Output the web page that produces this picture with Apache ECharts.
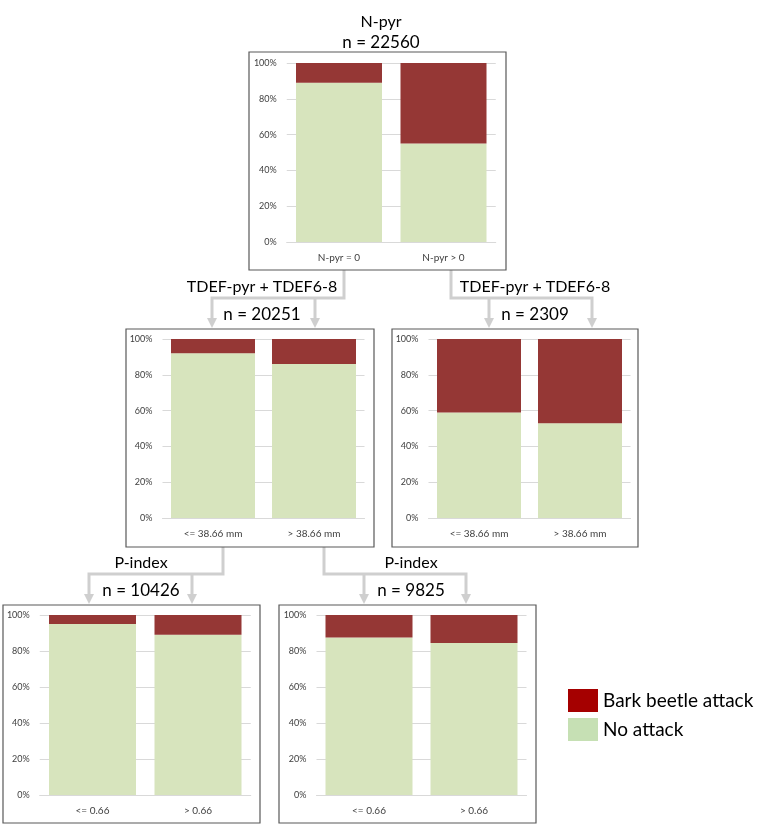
<!DOCTYPE html>
<html>
<head>
<meta charset="utf-8">
<script src="https://cdn.jsdelivr.net/npm/echarts@6/dist/echarts.min.js"></script>
<style>
html, body { margin: 0; padding: 0; background: #fff; }
#main { width: 765px; height: 826px; }
</style>
</head>
<body>
<div id="main"></div>
<script>
// data (percent of trees)
var catsNpyr = ['N-pyr = 0', 'N-pyr > 0'];
var catsTdef = ['<= 38.66 mm', '> 38.66 mm'];
var catsPidx = ['<= 0.66', '> 0.66'];

var noAttackNpyr  = [89, 55];
var attackNpyr    = [11, 45];
var noAttackTdefA = [92, 86];
var attackTdefA   = [8, 14];
var noAttackTdefB = [59, 53];
var attackTdefB   = [41, 47];
var noAttackPidxA = [95, 89];
var attackPidxA   = [5, 11];
var noAttackPidxB = [87.5, 84.5];
var attackPidxB   = [12.5, 15.5];

var nodeTitles = ['N-pyr', 'TDEF-pyr + TDEF6-8', 'TDEF-pyr + TDEF6-8', 'P-index', 'P-index'];
var nodeCounts = [22560, 20251, 2309, 10426, 9825];

var FONT = 'Lato';
var RED = '#953735', GREEN = '#D7E4BD';
var LINE = '#CFCFCF';

// layout of the five small charts
var panels = [
    {cats: catsNpyr, no: noAttackNpyr,  yes: attackNpyr,  box: [249, 52, 257, 218],  grid: {left: 286.75, top: 63,  width: 209, height: 179}, barW: 86},
    {cats: catsTdef, no: noAttackTdefA, yes: attackTdefA, box: [126, 329, 248, 218], grid: {left: 162.5,  top: 339, width: 202, height: 179}, barW: 84},
    {cats: catsTdef, no: noAttackTdefB, yes: attackTdefB, box: [392, 329, 246, 218], grid: {left: 428.5,  top: 339, width: 202, height: 179}, barW: 84},
    {cats: catsPidx, no: noAttackPidxA, yes: attackPidxA, box: [3, 605, 257, 218],   grid: {left: 39.75,  top: 615, width: 211, height: 180}, barW: 87},
    {cats: catsPidx, no: noAttackPidxB, yes: attackPidxB, box: [279, 605, 257, 218], grid: {left: 316.5,  top: 615, width: 210, height: 180}, barW: 87}
];

// where the node headings go
var headPos = [
    {x: 381, y1: 22,  y2: 43},
    {x: 262, y1: 287, y2: 315},
    {x: 535, y1: 287, y2: 315},
    {x: 141, y1: 563, y2: 591},
    {x: 411, y1: 563, y2: 591}
];

// connectors: trunk polyline + extra branch x, arrow tip y
var links = [
    {trunk: [[344, 270], [344, 298], [212, 298], [212, 320]], branch: 315, y0: 298, tip: 328},
    {trunk: [[451, 270], [451, 298], [592, 298], [592, 320]], branch: 489, y0: 298, tip: 328},
    {trunk: [[223, 547], [223, 574], [89, 574], [89, 596]],   branch: 192, y0: 574, tip: 604},
    {trunk: [[324, 547], [324, 574], [466, 574], [466, 596]], branch: 364, y0: 574, tip: 604}
];

var grids = [], xAxes = [], yAxes = [], series = [], graphics = [];

panels.forEach(function (p, i) {
    grids.push({left: p.grid.left, top: p.grid.top, width: p.grid.width, height: p.grid.height, containLabel: false});
    xAxes.push({
        type: 'category', gridIndex: i, data: p.cats,
        axisLine: {show: true, lineStyle: {color: '#D9D9D9'}},
        axisTick: {show: false},
        axisLabel: {fontFamily: FONT, fontSize: 10, color: '#404040', margin: 11}
    });
    yAxes.push({
        type: 'value', gridIndex: i, min: 0, max: 100, interval: 20,
        axisLine: {show: false}, axisTick: {show: false},
        splitLine: {lineStyle: {color: '#D9D9D9'}},
        axisLabel: {formatter: '{value}%', fontFamily: FONT, fontSize: 9, color: '#404040', margin: 10}
    });
    series.push({
        name: 'No attack', type: 'bar', stack: 's' + i, xAxisIndex: i, yAxisIndex: i,
        barWidth: p.barW, data: p.no, itemStyle: {color: GREEN}, silent: true
    });
    series.push({
        name: 'Bark beetle attack', type: 'bar', stack: 's' + i, xAxisIndex: i, yAxisIndex: i,
        barWidth: p.barW, data: p.yes, itemStyle: {color: RED}, silent: true
    });
    graphics.push({
        type: 'rect', shape: {x: p.box[0], y: p.box[1], width: p.box[2], height: p.box[3]},
        style: {fill: null, stroke: '#595959', lineWidth: 1.2}, z: 10
    });
});

headPos.forEach(function (h, i) {
    graphics.push({type: 'text', x: h.x, y: h.y1, style: {text: nodeTitles[i], font: '16px ' + FONT, fill: '#000', align: 'center', verticalAlign: 'middle'}});
    graphics.push({type: 'text', x: h.x, y: h.y2, style: {text: 'n = ' + nodeCounts[i], font: '17px ' + FONT, fill: '#000', align: 'center', verticalAlign: 'middle'}});
});

function arrow(x, tip) {
    return {type: 'polygon', shape: {points: [[x - 5, tip - 10], [x + 5, tip - 10], [x, tip]]}, style: {fill: LINE}};
}

links.forEach(function (l) {
    graphics.push({type: 'polyline', shape: {points: l.trunk}, style: {stroke: LINE, lineWidth: 3, fill: null}});
    graphics.push({type: 'line', shape: {x1: l.branch, y1: l.y0, x2: l.branch, y2: l.tip - 8}, style: {stroke: LINE, lineWidth: 3}});
    graphics.push(arrow(l.trunk[3][0], l.tip));
    graphics.push(arrow(l.branch, l.tip));
});

var chart = echarts.init(document.getElementById('main'));
chart.setOption({
    animation: false,
    backgroundColor: '#fff',
    grid: grids,
    xAxis: xAxes,
    yAxis: yAxes,
    series: series,
    legend: {
        left: 568, top: 689, orient: 'vertical', padding: 0,
        itemWidth: 30, itemHeight: 23, itemGap: 6,
        icon: 'rect',
        textStyle: {fontFamily: FONT, fontSize: 19, color: '#000'},
        data: [
            {name: 'Bark beetle attack', itemStyle: {color: '#A50000'}},
            {name: 'No attack', itemStyle: {color: '#C6E0B4'}}
        ]
    },
    graphic: graphics
});
</script>
</body>
</html>
